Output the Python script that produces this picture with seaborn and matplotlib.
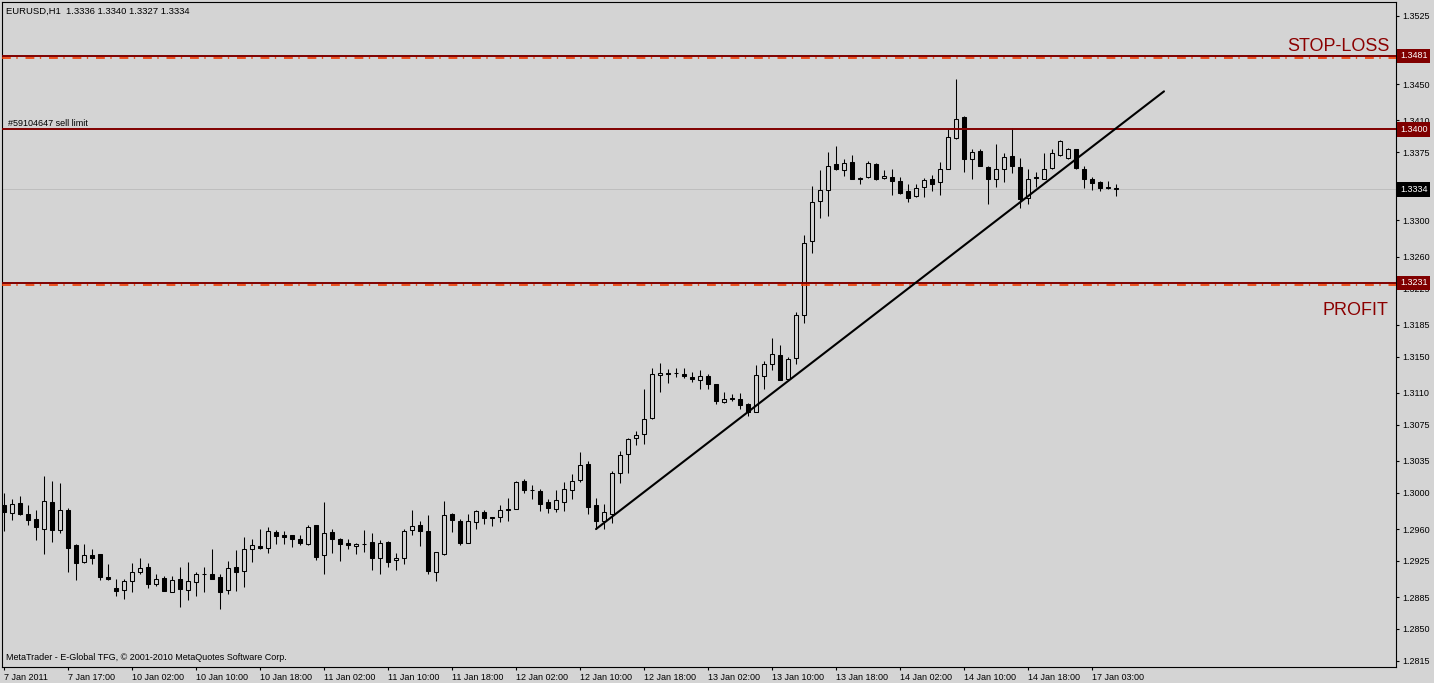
import numpy as np
import matplotlib
matplotlib.use("Agg")
import matplotlib.pyplot as plt
import matplotlib.transforms as mtransforms
import seaborn as sns

# ---------------- data ----------------
opens = [1.2986, 1.2978, 1.2989, 1.2977, 1.2971, 1.2960, 1.2990, 1.2959, 1.2981, 1.2942,
         1.2924, 1.2931, 1.2932, 1.2907, 1.2895, 1.2893, 1.2903, 1.2913, 1.2918, 1.2900,
         1.2906, 1.2891, 1.2905, 1.2893, 1.2902, 1.2911, 1.2911, 1.2907, 1.2893, 1.2918,
         1.2914, 1.2938, 1.2941, 1.2939, 1.2957, 1.2954, 1.2953, 1.2949, 1.2944, 1.2964,
         1.2931, 1.2957, 1.2949, 1.2945, 1.2941, 1.2944, 1.2946, 1.2928, 1.2946, 1.2926,
         1.2928, 1.2959, 1.2965, 1.2958, 1.2913, 1.2933, 1.2977, 1.2969, 1.2945, 1.2968,
         1.2979, 1.2973, 1.2973, 1.2982, 1.2982, 1.3013, 1.3003, 1.3002, 1.2990, 1.2982,
         1.2990, 1.3003, 1.3014, 1.3032, 1.2986, 1.2969, 1.2977, 1.3022, 1.3043, 1.3060,
         1.3065, 1.3082, 1.3130, 1.3132, 1.3132, 1.3131, 1.3127, 1.3124, 1.3129, 1.3120,
         1.3100, 1.3104, 1.3103, 1.3098, 1.3089, 1.3129, 1.3142, 1.3152, 1.3125, 1.3148,
         1.3196, 1.3277, 1.3321, 1.3333, 1.3362, 1.3355, 1.3364, 1.3347, 1.3348, 1.3362,
         1.3347, 1.3348, 1.3343, 1.3332, 1.3327, 1.3337, 1.3345, 1.3342, 1.3357, 1.3391,
         1.3414, 1.3367, 1.3376, 1.3359, 1.3346, 1.3357, 1.3371, 1.3359, 1.3325, 1.3348,
         1.3346, 1.3358, 1.3372, 1.3369, 1.3378, 1.3357, 1.3346, 1.3342, 1.3337, 1.3336]

highs = [1.3000, 1.2993, 1.2996, 1.2987, 1.2981, 1.3018, 1.3013, 1.3011, 1.2983, 1.2943,
         1.2943, 1.2938, 1.2933, 1.2921, 1.2905, 1.2905, 1.2923, 1.2928, 1.2923, 1.2910,
         1.2908, 1.2908, 1.2918, 1.2924, 1.2913, 1.2918, 1.2938, 1.2910, 1.2925, 1.2937,
         1.2951, 1.2949, 1.2960, 1.2962, 1.2959, 1.2958, 1.2953, 1.2954, 1.2965, 1.2964,
         1.2990, 1.2960, 1.2950, 1.2949, 1.2945, 1.2959, 1.2956, 1.2948, 1.2947, 1.2934,
         1.2960, 1.2981, 1.2969, 1.2976, 1.2935, 1.2991, 1.2978, 1.2971, 1.2977, 1.2981,
         1.2981, 1.2973, 1.2986, 1.2994, 1.3013, 1.3015, 1.3008, 1.3004, 1.2993, 1.3003,
         1.3012, 1.3021, 1.3045, 1.3035, 1.2994, 1.2988, 1.3024, 1.3046, 1.3060, 1.3068,
         1.3114, 1.3137, 1.3143, 1.3136, 1.3137, 1.3137, 1.3133, 1.3135, 1.3131, 1.3120,
         1.3111, 1.3109, 1.3110, 1.3099, 1.3141, 1.3145, 1.3170, 1.3163, 1.3150, 1.3199,
         1.3284, 1.3338, 1.3355, 1.3375, 1.3382, 1.3368, 1.3372, 1.3348, 1.3365, 1.3363,
         1.3355, 1.3357, 1.3348, 1.3340, 1.3340, 1.3347, 1.3350, 1.3364, 1.3400, 1.3456,
         1.3415, 1.3379, 1.3379, 1.3360, 1.3384, 1.3374, 1.3402, 1.3369, 1.3357, 1.3353,
         1.3374, 1.3378, 1.3388, 1.3380, 1.3378, 1.3360, 1.3348, 1.3343, 1.3343, 1.3340]

lows = [1.2958, 1.2970, 1.2976, 1.2964, 1.2948, 1.2933, 1.2946, 1.2956, 1.2913, 1.2904,
        1.2923, 1.2922, 1.2904, 1.2904, 1.2886, 1.2883, 1.2891, 1.2911, 1.2895, 1.2897,
        1.2892, 1.2891, 1.2874, 1.2882, 1.2886, 1.2891, 1.2905, 1.2872, 1.2888, 1.2892,
        1.2896, 1.2924, 1.2938, 1.2934, 1.2944, 1.2943, 1.2940, 1.2942, 1.2942, 1.2926,
        1.2910, 1.2934, 1.2925, 1.2938, 1.2932, 1.2935, 1.2915, 1.2911, 1.2918, 1.2915,
        1.2922, 1.2953, 1.2941, 1.2911, 1.2903, 1.2931, 1.2957, 1.2942, 1.2945, 1.2960,
        1.2966, 1.2963, 1.2968, 1.2969, 1.2982, 1.3000, 1.2993, 1.2980, 1.2978, 1.2979,
        1.2980, 1.2993, 1.3012, 1.2977, 1.2960, 1.2960, 1.2967, 1.3011, 1.3022, 1.3053,
        1.3054, 1.3081, 1.3111, 1.3121, 1.3127, 1.3126, 1.3122, 1.3114, 1.3114, 1.3098,
        1.3099, 1.3101, 1.3092, 1.3084, 1.3089, 1.3114, 1.3135, 1.3124, 1.3125, 1.3142,
        1.3187, 1.3264, 1.3303, 1.3305, 1.3355, 1.3349, 1.3345, 1.3340, 1.3347, 1.3344,
        1.3345, 1.3328, 1.3329, 1.3320, 1.3326, 1.3326, 1.3332, 1.3328, 1.3357, 1.3389,
        1.3353, 1.3346, 1.3360, 1.3318, 1.3337, 1.3342, 1.3352, 1.3314, 1.3318, 1.3337,
        1.3346, 1.3357, 1.3371, 1.3367, 1.3357, 1.3336, 1.3333, 1.3332, 1.3335, 1.3327]

closes = [1.2979, 1.2988, 1.2977, 1.2970, 1.2962, 1.2991, 1.2959, 1.2981, 1.2939, 1.2923,
          1.2931, 1.2928, 1.2907, 1.2905, 1.2892, 1.2903, 1.2913, 1.2917, 1.2899, 1.2905,
          1.2892, 1.2904, 1.2894, 1.2903, 1.2911, 1.2910, 1.2905, 1.2891, 1.2917, 1.2913,
          1.2938, 1.2942, 1.2939, 1.2958, 1.2952, 1.2951, 1.2949, 1.2945, 1.2962, 1.2929,
          1.2956, 1.2949, 1.2943, 1.2942, 1.2943, 1.2944, 1.2928, 1.2945, 1.2924, 1.2928,
          1.2958, 1.2963, 1.2958, 1.2914, 1.2935, 1.2975, 1.2970, 1.2945, 1.2969, 1.2980,
          1.2972, 1.2972, 1.2981, 1.2981, 1.3012, 1.3003, 1.3003, 1.2988, 1.2983, 1.2992,
          1.3004, 1.3013, 1.3031, 1.2984, 1.2969, 1.2979, 1.3022, 1.3042, 1.3059, 1.3064,
          1.3081, 1.3131, 1.3132, 1.3131, 1.3132, 1.3128, 1.3125, 1.3128, 1.3120, 1.3101,
          1.3103, 1.3103, 1.3097, 1.3089, 1.3130, 1.3142, 1.3153, 1.3124, 1.3147, 1.3196,
          1.3275, 1.3320, 1.3333, 1.3360, 1.3356, 1.3363, 1.3346, 1.3346, 1.3363, 1.3345,
          1.3349, 1.3343, 1.3330, 1.3325, 1.3336, 1.3344, 1.3340, 1.3357, 1.3392, 1.3412,
          1.3368, 1.3375, 1.3360, 1.3345, 1.3357, 1.3370, 1.3360, 1.3324, 1.3346, 1.3347,
          1.3357, 1.3374, 1.3387, 1.3378, 1.3358, 1.3346, 1.3341, 1.3336, 1.3336, 1.3334]

date_tick_bars = [0, 8, 16, 24, 32, 40, 48, 56, 64, 72, 80, 88, 96, 104, 112, 120, 128, 136]
date_labels = ["7 Jan 2011", "7 Jan 17:00", "10 Jan 02:00", "10 Jan 10:00", "10 Jan 18:00",
               "11 Jan 02:00", "11 Jan 10:00", "11 Jan 18:00", "12 Jan 02:00", "12 Jan 10:00",
               "12 Jan 18:00", "13 Jan 02:00", "13 Jan 10:00", "13 Jan 18:00", "14 Jan 02:00",
               "14 Jan 10:00", "14 Jan 18:00", "17 Jan 03:00"]
price_ticks = [1.3525, 1.3485, 1.3450, 1.3410, 1.3375, 1.3340, 1.3300, 1.3260, 1.3225, 1.3185,
               1.3150, 1.3110, 1.3075, 1.3035, 1.3000, 1.2960, 1.2925, 1.2885, 1.2850, 1.2815]
hidden_price_labels = [1.3340]   # covered by the bid box in the reference

stop_loss = 1.3481
sell_limit = 1.3400
take_profit = 1.3231
bid = 1.3334
trend_x = [74, 145]
trend_y = [1.2960, 1.3442]
header = "EURUSD,H1  1.3336 1.3340 1.3327 1.3334"
order_label = "#59104647 sell limit"
copyright_text = "MetaTrader - E-Global TFG, \u00a9 2001-2010 MetaQuotes Software Corp."

# ---------------- style ----------------
sns.set_style("white")
plt.rcParams['font.family'] = ['Liberation Sans', 'DejaVu Sans']
BG = '#D4D4D4'
MAROON = '#800000'
FS = 6.5

W, H = 1434, 683
fig = plt.figure(figsize=(W / 100, H / 100), dpi=100, facecolor=BG)
ax = fig.add_axes([2 / W, 16 / H, 1394 / W, 665 / H])
ax.set_facecolor(BG)

o = np.array(opens); h = np.array(highs); l = np.array(lows); c = np.array(closes)
x = np.arange(len(o))
up = c >= o

ax.vlines(x, l, h, color='black', lw=0.75, zorder=2)
ax.bar(x[up], (c - o)[up], bottom=o[up], width=0.58, color=BG,
       edgecolor='black', linewidth=0.75, zorder=3)
ax.bar(x[~up], (o - c)[~up], bottom=c[~up], width=0.58, color='black',
       edgecolor='black', linewidth=0.75, zorder=3)

# bid line
ax.axhline(bid, color='#BEBEBE', lw=0.7, zorder=1)

# SL / TP lines (order line dash-dot underneath, maroon user line on top)
shift = mtransforms.ScaledTranslation(0, -1.8 / 100, fig.dpi_scale_trans)
for lv in (stop_loss, take_profit):
    ax.plot([0, 1], [lv, lv], transform=ax.get_yaxis_transform() + shift,
            color='#F03C00', lw=1.2, dashes=(5.3, 3.3, 0.8, 4.7), zorder=4,
            solid_capstyle='butt', dash_capstyle='butt')
    ax.axhline(lv, color=MAROON, lw=1.4, zorder=5)
ax.axhline(sell_limit, color=MAROON, lw=1.4, zorder=5)

# trend line
sns.lineplot(x=trend_x, y=trend_y, ax=ax, color='black', lw=1.5, zorder=6,
             estimator=None, sort=False)

ax.set_xlim(-0.25, 174)
ax.set_ylim(1.28081, 1.35404)

# axes
ax.yaxis.tick_right()
ax.set_yticks(price_ticks)
ax.set_yticklabels(["" if v in hidden_price_labels else f"{v:.4f}" for v in price_ticks])
ax.set_xticks(date_tick_bars)
ax.set_xticklabels(date_labels)
for lab in ax.get_xticklabels():
    lab.set_ha('left')
ax.tick_params(axis='y', direction='out', length=2, width=0.8, pad=2.5,
               labelsize=FS, colors='black', right=True, left=False)
ax.tick_params(axis='x', direction='out', length=2.5, width=0.8, pad=2,
               labelsize=FS, colors='black', bottom=True)
for sp in ax.spines.values():
    sp.set_color('black')
    sp.set_linewidth(0.8)
    sp.set_visible(True)
ax.set_xlabel('')
ax.set_ylabel('')
ax.grid(False)

ytrans = ax.get_yaxis_transform()
# price boxes on the right scale
for lv, fc in ((stop_loss, MAROON), (sell_limit, MAROON), (take_profit, MAROON), (bid, 'black')):
    ax.annotate(f"{lv:.4f}", xy=(1, lv), xycoords=ytrans, xytext=(4, 0),
                textcoords='offset pixels', ha='left', va='center', fontsize=FS,
                color='white', annotation_clip=False, zorder=10,
                bbox=dict(boxstyle='square,pad=0.32', fc=fc, ec='none'))

ax.annotate("STOP-LOSS", xy=(1, stop_loss), xycoords=ytrans, xytext=(-6, 5),
            textcoords='offset pixels', ha='right', va='baseline', fontsize=13,
            color='#8B0000', zorder=10)
ax.annotate("PROFIT", xy=(1, take_profit), xycoords=ytrans, xytext=(-8, -32),
            textcoords='offset pixels', ha='right', va='baseline', fontsize=13,
            color='#8B0000', zorder=10)
ax.annotate(order_label, xy=(0, sell_limit), xycoords=ytrans, xytext=(6, 3),
            textcoords='offset pixels', ha='left', va='baseline', fontsize=FS,
            color='black', zorder=10)
ax.annotate(header, xy=(0, 1), xycoords='axes fraction', xytext=(4, -9),
            textcoords='offset pixels', ha='left', va='center', fontsize=6.8,
            color='black', zorder=10)
ax.annotate(copyright_text, xy=(0, 0), xycoords='axes fraction', xytext=(4, 10),
            textcoords='offset pixels', ha='left', va='center', fontsize=FS,
            color='black', zorder=10)

fig.savefig("out.png", dpi=100, facecolor=BG)
